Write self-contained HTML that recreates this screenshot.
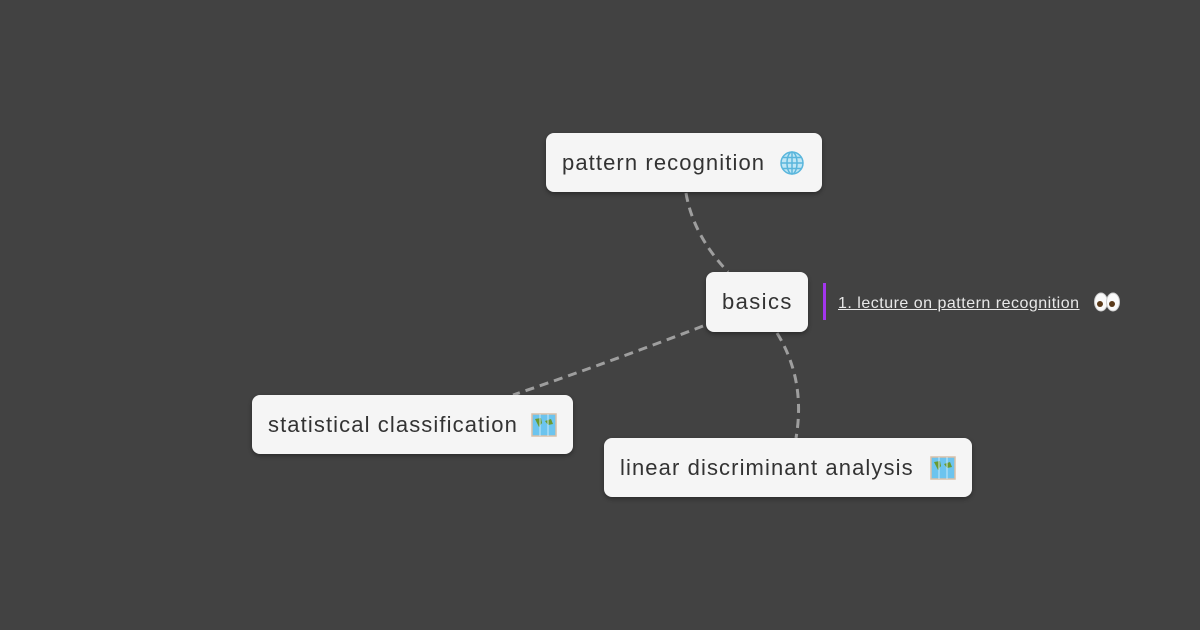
<!DOCTYPE html>
<html><head><meta charset="utf-8"><style>
html,body{margin:0;padding:0;}
body{width:1200px;height:630px;background:#424242;position:relative;overflow:hidden;font-family:"Liberation Sans",sans-serif;}
.n{position:absolute;background:#f5f5f5;border-radius:8px;box-shadow:0 2px 4px rgba(0,0,0,.35);color:#333;font-size:22px;display:flex;align-items:center;box-sizing:border-box;padding-left:16px;white-space:nowrap;letter-spacing:1.1px;}
.n svg{position:absolute;}
</style></head><body>
<svg width="1200" height="630" style="position:absolute;left:0;top:0">
<g fill="none" stroke="#9e9e9e" stroke-width="3" stroke-dasharray="9,6">
<path d="M686 193 Q693 235 728 272"/>
<path d="M703 326 Q610 362 513 395"/>
<path d="M777 333 Q806 380 796 438"/>
</g>
<rect x="823" y="283" width="3" height="37" fill="#a335ee"/>
</svg>
<div class="n" style="left:546px;top:133px;width:276px;height:59px;">pattern recognition
<svg style="left:234px;top:18px" width="24" height="24" viewBox="0 0 24 24"><circle cx="12" cy="12" r="11" fill="#bfe6f5" stroke="#5ab6dc" stroke-width="1.5"/><g stroke="#5ab6dc" stroke-width="1.5" fill="none"><ellipse cx="12" cy="12" rx="5" ry="11"/><line x1="12" y1="1" x2="12" y2="23"/><line x1="1" y1="12" x2="23" y2="12"/><line x1="3" y1="6.5" x2="21" y2="6.5"/><line x1="3" y1="17.5" x2="21" y2="17.5"/></g></svg></div>
<div class="n" style="left:706px;top:272px;width:102px;height:60px;letter-spacing:1.4px;">basics</div>
<div style="position:absolute;left:838px;top:295px;color:#e8e8e8;font-size:16px;letter-spacing:0.5px;text-decoration:underline;white-space:nowrap;">1. lecture on pattern recognition </div>
<svg style="position:absolute;left:1093px;top:291px" width="28" height="22" viewBox="0 0 28 22"><ellipse cx="8" cy="11" rx="6.5" ry="9" fill="#fafafa" stroke="#ccc"/><ellipse cx="20" cy="11" rx="6.5" ry="9" fill="#fafafa" stroke="#ccc"/><circle cx="7" cy="13" r="3" fill="#5a3a1a"/><circle cx="19" cy="13" r="3" fill="#5a3a1a"/></svg>
<div class="n" style="left:252px;top:395px;width:321px;height:59px;">statistical classification
<svg style="left:279px;top:18px" width="26" height="24" viewBox="0 0 26 24"><rect x="1" y="1" width="24" height="22" fill="#6cc4ee" stroke="#d8c0a8" stroke-width="1.5"/><path d="M4 6 L10 5 L11 10 L8 14 L6 10Z M14 8 L20 6 L22 11 L17 12Z" fill="#6a9a30"/><path d="M9 1V23M17 1V23" stroke="#c8e8f8" stroke-width="1"/></svg></div>
<div class="n" style="left:604px;top:438px;width:368px;height:59px;">linear discriminant analysis
<svg style="left:326px;top:18px" width="26" height="24" viewBox="0 0 26 24"><rect x="1" y="1" width="24" height="22" fill="#6cc4ee" stroke="#d8c0a8" stroke-width="1.5"/><path d="M4 6 L10 5 L11 10 L8 14 L6 10Z M14 8 L20 6 L22 11 L17 12Z" fill="#6a9a30"/><path d="M9 1V23M17 1V23" stroke="#c8e8f8" stroke-width="1"/></svg></div>
</body></html>
